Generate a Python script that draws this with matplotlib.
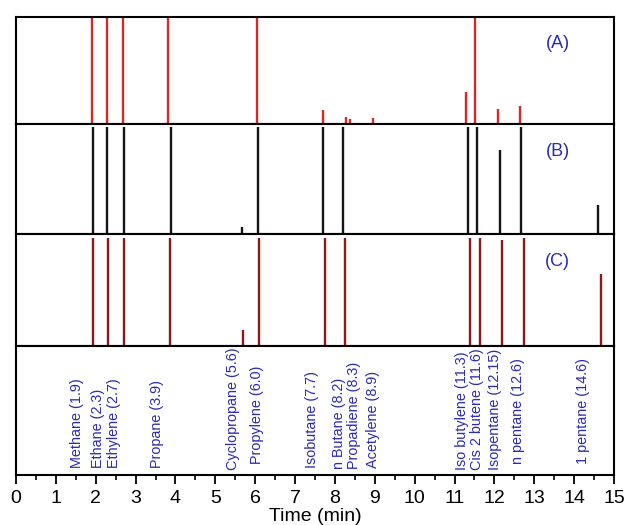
import matplotlib
matplotlib.use("Agg")
import matplotlib.pyplot as plt
from matplotlib.ticker import MultipleLocator

plt.rcParams["font.family"] = ["Liberation Sans", "DejaVu Sans"]

# retention times (min) and relative peak heights for each trace
rt_a = [1.90, 2.28, 2.68, 3.81, 6.05, 7.70, 8.27, 8.37, 8.95, 11.29, 11.52, 12.10, 12.63]
h_a = [1.0, 1.0, 1.0, 1.0, 1.0, 0.13, 0.07, 0.05, 0.06, 0.30, 1.0, 0.14, 0.165]

rt_b = [1.92, 2.29, 2.70, 3.88, 5.66, 6.07, 7.71, 8.19, 11.33, 11.56, 12.14, 12.67, 14.61]
h_b = [1.0, 1.0, 1.0, 1.0, 0.07, 1.0, 1.0, 1.0, 1.0, 1.0, 0.79, 1.0, 0.27]

rt_c = [1.93, 2.30, 2.71, 3.86, 5.70, 6.10, 7.76, 8.24, 11.39, 11.63, 12.20, 12.73, 14.67]
h_c = [1.0, 1.0, 1.0, 1.0, 0.15, 1.0, 1.0, 1.0, 1.0, 1.0, 0.98, 1.0, 0.67]

compounds = ["Methane (1.9)", "Ethane (2.3)", "Ethylene (2.7)", "Propane (3.9)",
             "Cyclopropane (5.6)", "Propylene (6.0)", "Isobutane (7.7)",
             "n Butane (8.2)", "Propadiene (8.3)", "Acetylene (8.9)",
             "Iso butylene (11.3)", "Cis 2 butene (11.6)", "Isopentane (12.15)",
             "n pentane (12.6)", "1 pentane (14.6)"]

# layout: where each label sits in the bottom panel
label_x = [1.54, 2.05, 2.47, 3.53, 5.45, 6.04, 7.42, 8.09, 8.48, 8.95,
           11.18, 11.57, 12.01, 12.60, 14.23]
label_y = [0.055, 0.055, 0.055, 0.055, 0.035, 0.085, 0.055, 0.05, 0.05, 0.055,
           0.04, 0.04, 0.04, 0.085, 0.085]

blue = "#2a2ab4"

fig = plt.figure(figsize=(6.27, 5.25), dpi=100)
gs = fig.add_gridspec(4, 1, height_ratios=[107, 110, 112, 129], hspace=0,
                      left=16 / 627, right=614 / 627, top=1 - 17 / 525, bottom=1 - 475 / 525)
axes = [fig.add_subplot(gs[i]) for i in range(4)]

traces = [(rt_a, h_a, "#d42a2a", 1.0, "(A)"),
          (rt_b, h_b, "#151515", 1.03, "(B)"),
          (rt_c, h_c, "#8b1a1a", 1.04, "(C)")]

for ax, (rt, h, col, top, tag) in zip(axes[:3], traces):
    ax.vlines(rt, 0, h, colors=col, linewidth=1.7)
    ax.set_ylim(0, top)
    ax.text(0.906, 0.75, tag, transform=ax.transAxes, color=blue,
            fontsize=13, ha="center", va="center")

ax_d = axes[3]
for name, x, y in zip(compounds, label_x, label_y):
    ax_d.text(x, y, name, transform=ax_d.get_xaxis_transform(), rotation=90,
              ha="center", va="bottom", color=blue, fontsize=10.4)

for ax in axes:
    ax.set_xlim(0, 15)
    ax.set_yticks([])
    for s in ax.spines.values():
        s.set_linewidth(1.5)
    if ax is not ax_d:
        ax.set_xticks([])

ax_d.xaxis.set_major_locator(MultipleLocator(1))
ax_d.xaxis.set_minor_locator(MultipleLocator(0.5))
ax_d.tick_params(axis="x", which="major", direction="out", length=6.5, width=1.3,
                 labelsize=14, pad=4.5)
ax_d.tick_params(axis="x", which="minor", direction="out", length=3.5, width=1.2)
ax_d.set_xlabel("Time (min)", fontsize=14, labelpad=0.5)

fig.savefig("out.png", dpi=100)
